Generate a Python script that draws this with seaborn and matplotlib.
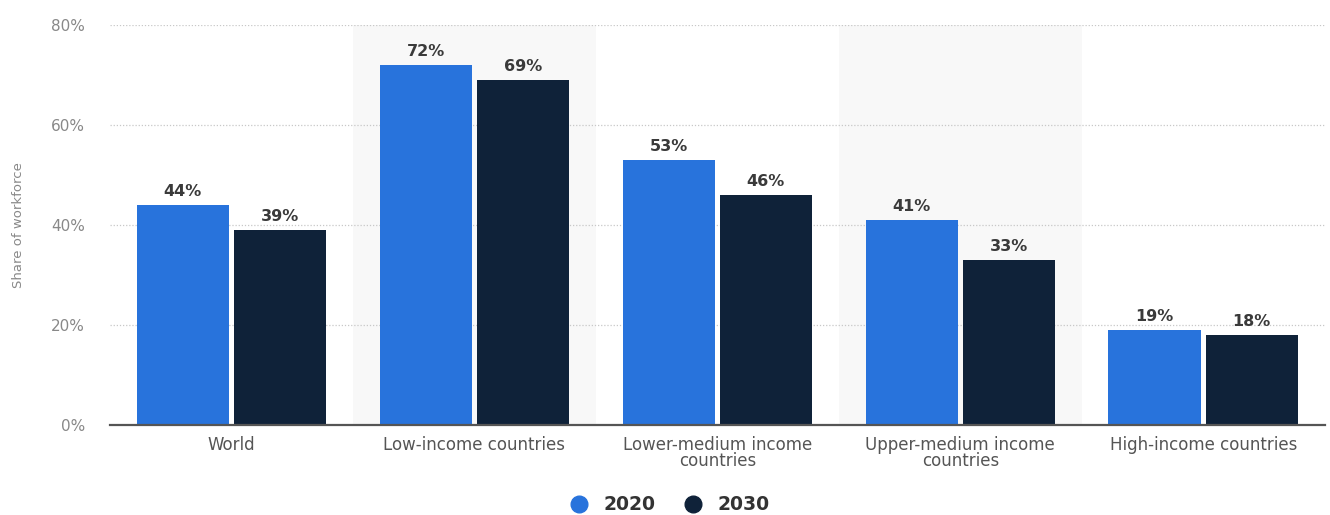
import matplotlib
matplotlib.use("Agg")
import matplotlib.pyplot as plt
from matplotlib.lines import Line2D
import seaborn as sns
import pandas as pd

categories = ["World", "Low-income countries", "Lower-medium income\ncountries",
              "Upper-medium income\ncountries", "High-income countries"]
years = ["2020", "2030"]
values_2020 = [44, 72, 53, 41, 19]
values_2030 = [39, 69, 46, 33, 18]
y_ticks = [0, 20, 40, 60, 80]

df = pd.DataFrame({
    "category": categories * 2,
    "year": [years[0]] * len(categories) + [years[1]] * len(categories),
    "share": values_2020 + values_2030,
})

colors = {"2020": "#2873dc", "2030": "#0f2239"}

sns.set_theme(style="white")
plt.rcParams["font.family"] = ["DejaVu Sans"]

fig = plt.figure(figsize=(13.3, 5.15), dpi=100)
ax = fig.add_axes([0.0827, 0.1748, 0.9133, 0.7767])

for i in range(len(categories)):
    if i % 2 == 1:
        ax.axvspan(i - 0.5, i + 0.5, color="#f8f8f8", zorder=0, lw=0)

sns.barplot(data=df, x="category", y="share", hue="year", palette=colors,
            order=categories, hue_order=years, width=0.8, gap=0.05,
            ax=ax, legend=False, zorder=3, edgecolor="none", saturation=1)

for c in ax.containers:
    ax.bar_label(c, labels=[f"{v:.0f}%" for v in c.datavalues], padding=4,
                 fontsize=11.5, fontweight="bold", color="#3a3a3a")

ax.set_xlim(-0.5, len(categories) - 0.5)
ax.set_ylim(0, 80)
ax.set_yticks(y_ticks)
ax.set_yticklabels([f"{t}%" for t in y_ticks])
for t in y_ticks[1:]:
    ax.axhline(t, color="#c8c8c8", lw=0.9, ls=(0, (1, 1.5)), zorder=1)

for s in ["top", "right", "left"]:
    ax.spines[s].set_visible(False)
ax.spines["bottom"].set_color("#555555")
ax.spines["bottom"].set_linewidth(1.6)
ax.spines["bottom"].set_zorder(5)

ax.tick_params(axis="y", length=0, pad=18, labelsize=11, labelcolor="#888888")
ax.tick_params(axis="x", length=0, pad=8, labelsize=12, labelcolor="#555555")
for lab in ax.get_xticklabels():
    lab.set_linespacing(0.88)
ax.set_xlabel("")
ax.set_ylabel("Share of workforce", fontsize=9.5, color="#888888",
              family=["Liberation Sans Narrow", "DejaVu Sans"], labelpad=19)

handles = [Line2D([0], [0], marker="o", color="none", markerfacecolor=colors[y],
                  markeredgecolor=colors[y], markersize=12, label=y) for y in years]
leg = fig.legend(handles=handles, loc="center", bbox_to_anchor=(0.5, 0.02),
                 ncol=2, frameon=False, handletextpad=0.3, columnspacing=1.0,
                 prop={"weight": "bold", "size": 13.5})
for t in leg.get_texts():
    t.set_color("#333333")

fig.savefig("out.png", dpi=100)
